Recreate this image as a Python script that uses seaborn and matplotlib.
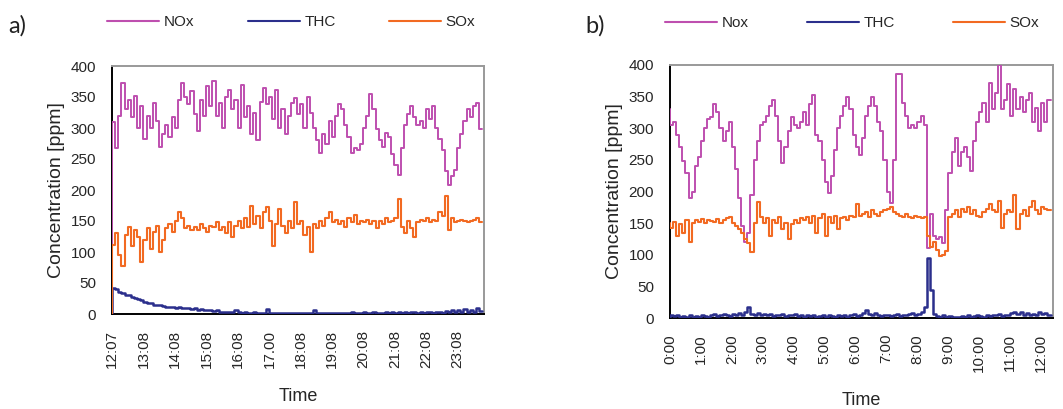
import numpy as np
import matplotlib
matplotlib.use("Agg")
import matplotlib.pyplot as plt
import seaborn as sns

# ---- panel a: 12:07 -> 24:00, one reading every 6 min ----
start_a = 12 + 7 / 60
nox_a = [0, 310, 268, 320, 372, 330, 345, 318, 352, 300, 335, 282, 320, 300, 340, 312,
         270, 290, 305, 285, 318, 300, 345, 372, 350, 338, 360, 322, 295, 345, 320, 368,
         335, 376, 320, 340, 300, 350, 362, 330, 345, 300, 370, 318, 335, 290, 325, 280,
         342, 365, 338, 350, 315, 362, 300, 330, 290, 320, 340, 348, 322, 338, 300, 350,
         325, 300, 280, 260, 290, 275, 312, 285, 320, 338, 330, 305, 285, 260, 268, 264,
         275, 300, 320, 355, 330, 298, 280, 270, 292, 285, 258, 240, 224, 268, 305, 322,
         335, 318, 305, 312, 300, 330, 315, 335, 300, 282, 265, 230, 208, 222, 232, 268,
         290, 312, 330, 318, 335, 340, 298]
thc_a = [0, 42, 40, 36, 34, 31, 30, 28, 26, 24, 22, 20, 18, 17, 15, 14, 14, 13, 12, 12,
         11, 10, 11, 9, 10, 9, 8, 9, 7, 8, 7, 6, 7, 5, 6, 4, 4, 4, 3, 3, 6, 3, 2, 3, 2, 2,
         3, 2, 2, 2, 8, 2, 1, 2, 1, 2, 1, 1, 2, 1, 1, 2, 1, 1, 1, 7, 1, 2, 1, 1, 1, 2, 1,
         1, 1, 2, 1, 4, 2, 1, 2, 3, 2, 1, 3, 2, 1, 2, 3, 2, 3, 2, 4, 2, 3, 2, 3, 4, 2, 3,
         2, 4, 3, 2, 4, 3, 2, 5, 3, 6, 4, 7, 3, 8, 4, 6, 3, 9, 5]
sox_a = [0, 112, 130, 95, 78, 128, 140, 110, 135, 125, 84, 120, 138, 105, 132, 142, 100,
         120, 138, 145, 132, 150, 165, 155, 138, 142, 135, 140, 136, 145, 138, 133, 142,
         140, 148, 135, 140, 130, 148, 125, 142, 150, 138, 155, 140, 175, 145, 158, 138,
         165, 172, 150, 110, 145, 170, 142, 130, 150, 138, 180, 145, 150, 128, 140, 100,
         145, 138, 150, 142, 155, 165, 148, 152, 145, 150, 140, 155, 148, 160, 145, 150,
         148, 152, 145, 150, 138, 150, 145, 155, 148, 150, 155, 185, 140, 130, 150, 138,
         125, 148, 152, 150, 155, 148, 152, 150, 165, 158, 190, 135, 155, 148, 150, 152,
         150, 148, 150, 152, 155, 148]
ticks_a = [12 + 7 / 60] + [h + 8 / 60 for h in range(13, 24)]
labels_a = ["12:07", "13:08", "14:08", "15:08", "16:08", "17.00", "18:08", "19:08",
            "20:08", "21:08", "22:08", "23:08"]

# ---- panel b: 0:00 -> 12:23, one reading every 6 min ----
start_b = 0.0
nox_b = [330, 305, 310, 290, 270, 248, 230, 190, 200, 240, 255, 280, 300, 315, 318, 338,
         325, 300, 280, 295, 310, 270, 235, 190, 145, 120, 135, 195, 250, 280, 305, 310,
         320, 335, 345, 320, 280, 245, 270, 295, 318, 305, 300, 310, 325, 305, 338, 352,
         290, 280, 250, 215, 197, 225, 265, 300, 320, 335, 350, 330, 290, 270, 258, 285,
         320, 335, 350, 335, 310, 295, 250, 200, 182, 250, 385, 385, 340, 320, 300, 305,
         300, 310, 320, 305, 110, 165, 130, 125, 128, 118, 170, 230, 262, 285, 240, 262,
         270, 255, 232, 280, 310, 325, 340, 310, 372, 330, 355, 400, 330, 345, 370, 320,
         362, 330, 350, 325, 345, 355, 310, 332, 295, 340, 310, 345]
thc_b = [2, 5, 3, 4, 2, 3, 1, 4, 2, 3, 2, 5, 3, 2, 4, 6, 3, 4, 7, 5, 3, 6, 4, 8, 5, 10,
         18, 6, 4, 8, 5, 7, 4, 6, 3, 5, 4, 6, 3, 5, 4, 7, 3, 4, 2, 5, 3, 4, 2, 3, 5, 2, 4,
         3, 2, 4, 3, 5, 2, 4, 6, 3, 5, 8, 12, 6, 4, 8, 5, 3, 4, 5, 3, 4, 6, 3, 5, 4, 6, 8,
         5, 7, 10, 18, 95, 45, 6, 3, 2, 4, 2, 3, 1, 2, 1, 3, 2, 4, 2, 3, 5, 3, 2, 4, 3, 5,
         4, 6, 3, 5, 4, 8, 10, 6, 9, 5, 8, 4, 7, 5, 9, 6, 8, 5]
sox_b = [150, 142, 152, 130, 148, 135, 155, 120, 150, 155, 152, 156, 150, 155, 154, 152,
         156, 150, 155, 158, 160, 150, 145, 140, 135, 125, 118, 105, 150, 184, 160, 150,
         158, 130, 155, 150, 160, 140, 150, 125, 148, 155, 150, 158, 155, 160, 150, 162,
         135, 158, 165, 130, 160, 150, 162, 140, 158, 160, 155, 162, 160, 180, 162, 165,
         168, 160, 170, 165, 162, 168, 170, 172, 175, 168, 165, 162, 160, 165, 160, 158,
         162, 160, 158, 160, 130, 112, 120, 108, 98, 100, 106, 160, 165, 170, 160, 172,
         168, 175, 165, 170, 162, 160, 168, 172, 180, 170, 168, 185, 142, 165, 170, 168,
         195, 140, 165, 170, 162, 175, 185, 170, 165, 175, 172, 170]
ticks_b = list(range(0, 13))
labels_b = [f"{h}:00" for h in range(0, 13)]

colors = {"NOx": "#BE4FAF", "THC": "#2B2F8C", "SOx": "#F26A22"}
widths = {"NOx": 1.4, "THC": 1.8, "SOx": 1.5}

sns.set_style("white")
plt.rcParams["font.family"] = ["Liberation Sans", "DejaVu Sans"]

fig = plt.figure(figsize=(10.63, 4.09), dpi=100)
ax_a = fig.add_axes([112 / 1063, 95 / 409, 372 / 1063, 248 / 409])
ax_b = fig.add_axes([670 / 1063, 91 / 409, 383 / 1063, 253 / 409])


def panel(ax, start, series, names, ticks, labels, xmax, leg_y, colgap):
    for (key, vals), name in zip(series, names):
        t = start + 0.1 * np.arange(len(vals))
        sns.lineplot(x=t, y=vals, ax=ax, color=colors[key], lw=widths[key],
                     drawstyle="steps-pre", label=name, zorder=3)
    ax.set_xlim(start, xmax)
    ax.set_ylim(0, 400)
    ax.set_yticks(range(0, 401, 50))
    ax.set_xticks(ticks)
    ax.set_xticklabels(labels, rotation=90)
    ax.tick_params(direction="inout", length=9, width=1.2, color="black",
                   labelsize=11, pad=7)
    for s in ["left", "bottom"]:
        ax.spines[s].set_color("black")
        ax.spines[s].set_linewidth(1.4)
    for s in ["top", "right"]:
        ax.spines[s].set_color("#999999")
        ax.spines[s].set_linewidth(1.4)
    ax.set_ylabel("Concentration [ppm]", fontsize=14, labelpad=4)
    ax.set_xlabel("Time", fontsize=13, labelpad=14)
    leg = ax.legend(ncol=3, loc="center left", bbox_to_anchor=(-0.013, leg_y),
                    frameon=False, fontsize=11, handlelength=3.4, handletextpad=0.3,
                    columnspacing=colgap, borderpad=0, borderaxespad=0)
    for line in leg.get_lines():
        line.set_linewidth(1.5)


panel(ax_a, start_a, [("NOx", nox_a), ("THC", thc_a), ("SOx", sox_a)],
      ["NOx", "THC", "SOx"], ticks_a, labels_a, 23.97, 1.177, 3.5)
panel(ax_b, start_b, [("NOx", nox_b), ("THC", thc_b), ("SOx", sox_b)],
      ["Nox", "THC", "SOx"], ticks_b, labels_b, 12.38, 1.166, 3.8)

fig.text(8 / 1063, 1 - 26 / 409, "a)", fontsize=17, family="Lato",
         va="center", color="#222222")
fig.text(585 / 1063, 1 - 26 / 409, "b)", fontsize=17, family="Lato",
         va="center", color="#222222")

fig.savefig("out.png", dpi=100)
